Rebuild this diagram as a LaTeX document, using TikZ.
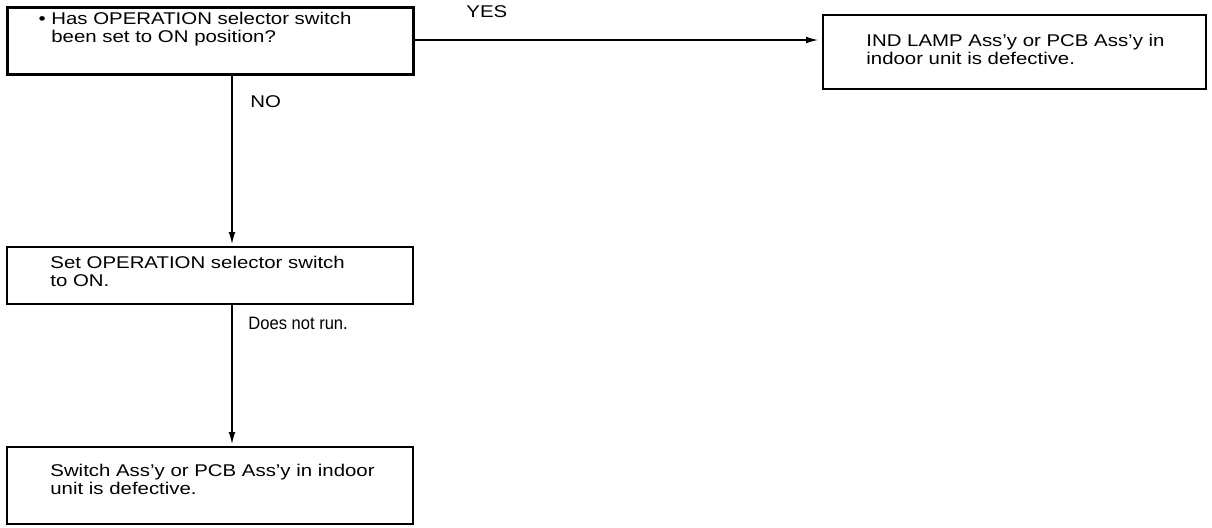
\documentclass[tikz,border=0pt]{standalone}
\usepackage{fontspec}
\setmainfont[FakeStretch=1.2]{Liberation Sans}
\newfontfamily\narrowlbl[FakeStretch=0.92]{Liberation Sans}
\usetikzlibrary{arrows.meta}
\begin{document}
\begin{tikzpicture}[x=0.5pt,y=-0.5pt,
  box/.style={draw, line width=0.75pt, rectangle, inner sep=0pt, anchor=north west},
  thickbox/.style={box, line width=1.3pt},
  txt/.style={inner sep=0pt, anchor=north west, align=left, font=\fontsize{8.5pt}{8.7pt}\selectfont},
  lbl/.style={inner sep=0pt, anchor=west, font=\fontsize{8.5pt}{8.7pt}\selectfont},
  conn/.style={line width=0.6pt, -{Latex[length=6pt,width=3.4pt]}}]
\useasboundingbox (0,0) rectangle (1212,527);
\node[thickbox, minimum width=203pt, minimum height=33.5pt] (b1) at (6,6) {};
\node[box, minimum width=191.5pt, minimum height=37pt] (b2) at (822,14) {};
\node[box, minimum width=203pt, minimum height=28.5pt] (b3) at (6,246) {};
\node[box, minimum width=203pt, minimum height=38.5pt] (b4) at (6,446) {};
\node[txt] (t1) at (51,12) {\llap{\textbullet\ }Has OPERATION selector switch\\been set to ON position?};
\node[txt] (t2) at (866,34) {IND LAMP Ass'y or PCB Ass'y in\\indoor unit is defective.};
\node[txt] (t3) at (50,256) {Set OPERATION selector switch\\to ON.};
\node[txt] (t4) at (50,464) {Switch Ass'y or PCB Ass'y in indoor\\unit is defective.};
\coordinate (yesend) at (818,40);
\draw[conn] (b1.east |- yesend) -- (yesend);
\node[lbl] (yes) at (466,12) {YES};
\coordinate (a1) at (232,73);
\draw[conn] (b1.south -| a1) -- ([yshift=1pt]b3.north -| a1);
\node[lbl] (no) at (250,102) {NO};
\draw[conn] (b3.south -| a1) -- ([yshift=1pt]b4.north -| a1);
\node[lbl, font=\fontsize{9pt}{9.2pt}\narrowlbl] (dnr) at (248,323) {Does not run.};
\end{tikzpicture}
\end{document}
